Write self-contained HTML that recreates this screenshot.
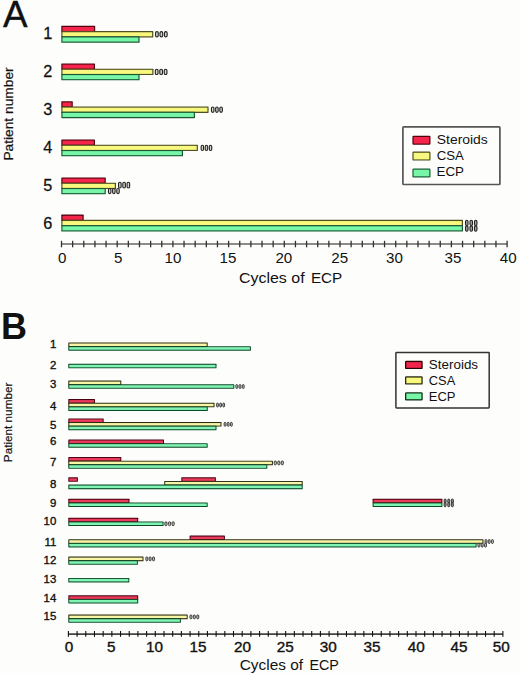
<!DOCTYPE html>
<html><head><meta charset="utf-8"><style>
html,body{margin:0;padding:0;background:#fdfdfb;}
body{width:520px;height:673px;overflow:hidden;}
svg{display:block;font-family:"Liberation Sans", sans-serif;fill:#111;}
text{fill:#111;}
</style></head><body>
<svg width="520" height="673" viewBox="0 0 520 673">
<rect width="520" height="673" fill="#fdfdfb"/>
<text x="2.9" y="27.0" font-size="36.8" text-anchor="start" font-weight="normal" stroke="#111" stroke-width="0.35">A</text>
<text transform="translate(13.4,160.6) rotate(-90)" font-size="13.2" textLength="93.2" lengthAdjust="spacingAndGlyphs" stroke="#111" stroke-width="0.2">Patient number</text>
<rect x="61.30" y="25.80" width="33.90" height="6.45" rx="0.6" fill="#52000f"/>
<rect x="62.50" y="27.00" width="31.50" height="4.05" fill="#f4244a"/>
<rect x="61.30" y="31.05" width="92.00" height="6.45" rx="0.6" fill="#505020"/>
<rect x="62.50" y="32.25" width="89.60" height="4.05" fill="#f9f87e"/>
<rect x="61.30" y="36.30" width="78.30" height="6.45" rx="0.6" fill="#1c5a34"/>
<rect x="62.50" y="37.50" width="75.90" height="4.05" fill="#76f6a6"/>
<rect x="155.55" y="31.60" width="2.72" height="5.35" rx="1.36" fill="#d4d4c8" stroke="#222" stroke-width="1.1"/>
<rect x="159.99" y="31.60" width="2.72" height="5.35" rx="1.36" fill="#d4d4c8" stroke="#222" stroke-width="1.1"/>
<rect x="164.43" y="31.60" width="2.72" height="5.35" rx="1.36" fill="#d4d4c8" stroke="#222" stroke-width="1.1"/>
<text transform="translate(52.4,39.1) scale(1.03,1)" font-size="15.8" text-anchor="end" font-weight="normal" stroke="#111" stroke-width="0.25">1</text>
<rect x="61.30" y="63.40" width="33.70" height="6.45" rx="0.6" fill="#52000f"/>
<rect x="62.50" y="64.60" width="31.30" height="4.05" fill="#f4244a"/>
<rect x="61.30" y="68.65" width="92.20" height="6.45" rx="0.6" fill="#505020"/>
<rect x="62.50" y="69.85" width="89.80" height="4.05" fill="#f9f87e"/>
<rect x="61.30" y="73.90" width="78.30" height="6.45" rx="0.6" fill="#1c5a34"/>
<rect x="62.50" y="75.10" width="75.90" height="4.05" fill="#76f6a6"/>
<rect x="155.35" y="69.20" width="2.72" height="5.35" rx="1.36" fill="#d4d4c8" stroke="#222" stroke-width="1.1"/>
<rect x="159.79" y="69.20" width="2.72" height="5.35" rx="1.36" fill="#d4d4c8" stroke="#222" stroke-width="1.1"/>
<rect x="164.23" y="69.20" width="2.72" height="5.35" rx="1.36" fill="#d4d4c8" stroke="#222" stroke-width="1.1"/>
<text transform="translate(52.4,76.7) scale(1.03,1)" font-size="15.8" text-anchor="end" font-weight="normal" stroke="#111" stroke-width="0.25">2</text>
<rect x="61.30" y="101.20" width="11.50" height="6.45" rx="0.6" fill="#52000f"/>
<rect x="62.50" y="102.40" width="9.10" height="4.05" fill="#f4244a"/>
<rect x="61.30" y="106.45" width="147.30" height="6.45" rx="0.6" fill="#505020"/>
<rect x="62.50" y="107.65" width="144.90" height="4.05" fill="#f9f87e"/>
<rect x="61.30" y="111.70" width="133.70" height="6.45" rx="0.6" fill="#1c5a34"/>
<rect x="62.50" y="112.90" width="131.30" height="4.05" fill="#76f6a6"/>
<rect x="211.45" y="107.00" width="2.51" height="5.35" rx="1.25" fill="#d4d4c8" stroke="#222" stroke-width="1.1"/>
<rect x="215.65" y="107.00" width="2.51" height="5.35" rx="1.25" fill="#d4d4c8" stroke="#222" stroke-width="1.1"/>
<rect x="219.84" y="107.00" width="2.51" height="5.35" rx="1.25" fill="#d4d4c8" stroke="#222" stroke-width="1.1"/>
<text transform="translate(52.4,114.5) scale(1.03,1)" font-size="15.8" text-anchor="end" font-weight="normal" stroke="#111" stroke-width="0.25">3</text>
<rect x="61.30" y="139.40" width="33.70" height="6.45" rx="0.6" fill="#52000f"/>
<rect x="62.50" y="140.60" width="31.30" height="4.05" fill="#f4244a"/>
<rect x="61.30" y="144.65" width="136.60" height="6.45" rx="0.6" fill="#505020"/>
<rect x="62.50" y="145.85" width="134.20" height="4.05" fill="#f9f87e"/>
<rect x="61.30" y="149.90" width="121.70" height="6.45" rx="0.6" fill="#1c5a34"/>
<rect x="62.50" y="151.10" width="119.30" height="4.05" fill="#76f6a6"/>
<rect x="201.15" y="145.20" width="2.42" height="5.35" rx="1.21" fill="#d4d4c8" stroke="#222" stroke-width="1.1"/>
<rect x="205.24" y="145.20" width="2.42" height="5.35" rx="1.21" fill="#d4d4c8" stroke="#222" stroke-width="1.1"/>
<rect x="209.33" y="145.20" width="2.42" height="5.35" rx="1.21" fill="#d4d4c8" stroke="#222" stroke-width="1.1"/>
<text transform="translate(52.4,152.7) scale(1.03,1)" font-size="15.8" text-anchor="end" font-weight="normal" stroke="#111" stroke-width="0.25">4</text>
<rect x="61.30" y="177.40" width="44.50" height="6.45" rx="0.6" fill="#52000f"/>
<rect x="62.50" y="178.60" width="42.10" height="4.05" fill="#f4244a"/>
<rect x="61.30" y="182.65" width="54.70" height="6.45" rx="0.6" fill="#505020"/>
<rect x="62.50" y="183.85" width="52.30" height="4.05" fill="#f9f87e"/>
<rect x="61.30" y="187.90" width="44.50" height="6.45" rx="0.6" fill="#1c5a34"/>
<rect x="62.50" y="189.10" width="42.10" height="4.05" fill="#76f6a6"/>
<rect x="118.55" y="182.30" width="2.57" height="5.65" rx="1.28" fill="#d4d4c8" stroke="#222" stroke-width="1.1"/>
<rect x="122.82" y="182.30" width="2.57" height="5.65" rx="1.28" fill="#d4d4c8" stroke="#222" stroke-width="1.1"/>
<rect x="127.08" y="182.30" width="2.57" height="5.65" rx="1.28" fill="#d4d4c8" stroke="#222" stroke-width="1.1"/>
<rect x="108.45" y="188.45" width="2.48" height="5.15" rx="1.24" fill="#d4d4c8" stroke="#222" stroke-width="1.1"/>
<rect x="112.61" y="188.45" width="2.48" height="5.15" rx="1.24" fill="#d4d4c8" stroke="#222" stroke-width="1.1"/>
<rect x="116.77" y="188.45" width="2.48" height="5.15" rx="1.24" fill="#d4d4c8" stroke="#222" stroke-width="1.1"/>
<text transform="translate(52.4,190.7) scale(1.03,1)" font-size="15.8" text-anchor="end" font-weight="normal" stroke="#111" stroke-width="0.25">5</text>
<rect x="61.30" y="214.60" width="22.40" height="6.45" rx="0.6" fill="#52000f"/>
<rect x="62.50" y="215.80" width="20.00" height="4.05" fill="#f4244a"/>
<rect x="61.30" y="219.85" width="401.70" height="6.45" rx="0.6" fill="#505020"/>
<rect x="62.50" y="221.05" width="399.30" height="4.05" fill="#f9f87e"/>
<rect x="61.30" y="225.10" width="401.70" height="6.45" rx="0.6" fill="#1c5a34"/>
<rect x="62.50" y="226.30" width="399.30" height="4.05" fill="#76f6a6"/>
<rect x="465.55" y="220.20" width="2.47" height="5.35" rx="1.24" fill="#a4aaa2" stroke="#222" stroke-width="1.1"/>
<rect x="470.01" y="220.20" width="2.47" height="5.35" rx="1.24" fill="#a4aaa2" stroke="#222" stroke-width="1.1"/>
<rect x="474.48" y="220.20" width="2.47" height="5.35" rx="1.24" fill="#a4aaa2" stroke="#222" stroke-width="1.1"/>
<rect x="465.55" y="225.85" width="2.47" height="5.35" rx="1.24" fill="#a4aaa2" stroke="#222" stroke-width="1.1"/>
<rect x="470.01" y="225.85" width="2.47" height="5.35" rx="1.24" fill="#a4aaa2" stroke="#222" stroke-width="1.1"/>
<rect x="474.48" y="225.85" width="2.47" height="5.35" rx="1.24" fill="#a4aaa2" stroke="#222" stroke-width="1.1"/>
<text transform="translate(52.4,228.6) scale(1.03,1)" font-size="15.8" text-anchor="end" font-weight="normal" stroke="#111" stroke-width="0.25">6</text>
<line x1="61.5" y1="243.9" x2="507.10" y2="243.9" stroke="#666" stroke-width="1.5"/>
<line x1="61.50" y1="240.8" x2="61.50" y2="247.3" stroke="#333" stroke-width="1.3"/>
<line x1="72.64" y1="240.8" x2="72.64" y2="247.3" stroke="#333" stroke-width="1.3"/>
<line x1="83.78" y1="240.8" x2="83.78" y2="247.3" stroke="#333" stroke-width="1.3"/>
<line x1="94.92" y1="240.8" x2="94.92" y2="247.3" stroke="#333" stroke-width="1.3"/>
<line x1="106.06" y1="240.8" x2="106.06" y2="247.3" stroke="#333" stroke-width="1.3"/>
<line x1="117.20" y1="240.8" x2="117.20" y2="247.3" stroke="#333" stroke-width="1.3"/>
<line x1="128.34" y1="240.8" x2="128.34" y2="247.3" stroke="#333" stroke-width="1.3"/>
<line x1="139.48" y1="240.8" x2="139.48" y2="247.3" stroke="#333" stroke-width="1.3"/>
<line x1="150.62" y1="240.8" x2="150.62" y2="247.3" stroke="#333" stroke-width="1.3"/>
<line x1="161.76" y1="240.8" x2="161.76" y2="247.3" stroke="#333" stroke-width="1.3"/>
<line x1="172.90" y1="240.8" x2="172.90" y2="247.3" stroke="#333" stroke-width="1.3"/>
<line x1="184.04" y1="240.8" x2="184.04" y2="247.3" stroke="#333" stroke-width="1.3"/>
<line x1="195.18" y1="240.8" x2="195.18" y2="247.3" stroke="#333" stroke-width="1.3"/>
<line x1="206.32" y1="240.8" x2="206.32" y2="247.3" stroke="#333" stroke-width="1.3"/>
<line x1="217.46" y1="240.8" x2="217.46" y2="247.3" stroke="#333" stroke-width="1.3"/>
<line x1="228.60" y1="240.8" x2="228.60" y2="247.3" stroke="#333" stroke-width="1.3"/>
<line x1="239.74" y1="240.8" x2="239.74" y2="247.3" stroke="#333" stroke-width="1.3"/>
<line x1="250.88" y1="240.8" x2="250.88" y2="247.3" stroke="#333" stroke-width="1.3"/>
<line x1="262.02" y1="240.8" x2="262.02" y2="247.3" stroke="#333" stroke-width="1.3"/>
<line x1="273.16" y1="240.8" x2="273.16" y2="247.3" stroke="#333" stroke-width="1.3"/>
<line x1="284.30" y1="240.8" x2="284.30" y2="247.3" stroke="#333" stroke-width="1.3"/>
<line x1="295.44" y1="240.8" x2="295.44" y2="247.3" stroke="#333" stroke-width="1.3"/>
<line x1="306.58" y1="240.8" x2="306.58" y2="247.3" stroke="#333" stroke-width="1.3"/>
<line x1="317.72" y1="240.8" x2="317.72" y2="247.3" stroke="#333" stroke-width="1.3"/>
<line x1="328.86" y1="240.8" x2="328.86" y2="247.3" stroke="#333" stroke-width="1.3"/>
<line x1="340.00" y1="240.8" x2="340.00" y2="247.3" stroke="#333" stroke-width="1.3"/>
<line x1="351.14" y1="240.8" x2="351.14" y2="247.3" stroke="#333" stroke-width="1.3"/>
<line x1="362.28" y1="240.8" x2="362.28" y2="247.3" stroke="#333" stroke-width="1.3"/>
<line x1="373.42" y1="240.8" x2="373.42" y2="247.3" stroke="#333" stroke-width="1.3"/>
<line x1="384.56" y1="240.8" x2="384.56" y2="247.3" stroke="#333" stroke-width="1.3"/>
<line x1="395.70" y1="240.8" x2="395.70" y2="247.3" stroke="#333" stroke-width="1.3"/>
<line x1="406.84" y1="240.8" x2="406.84" y2="247.3" stroke="#333" stroke-width="1.3"/>
<line x1="417.98" y1="240.8" x2="417.98" y2="247.3" stroke="#333" stroke-width="1.3"/>
<line x1="429.12" y1="240.8" x2="429.12" y2="247.3" stroke="#333" stroke-width="1.3"/>
<line x1="440.26" y1="240.8" x2="440.26" y2="247.3" stroke="#333" stroke-width="1.3"/>
<line x1="451.40" y1="240.8" x2="451.40" y2="247.3" stroke="#333" stroke-width="1.3"/>
<line x1="462.54" y1="240.8" x2="462.54" y2="247.3" stroke="#333" stroke-width="1.3"/>
<line x1="473.68" y1="240.8" x2="473.68" y2="247.3" stroke="#333" stroke-width="1.3"/>
<line x1="484.82" y1="240.8" x2="484.82" y2="247.3" stroke="#333" stroke-width="1.3"/>
<line x1="495.96" y1="240.8" x2="495.96" y2="247.3" stroke="#333" stroke-width="1.3"/>
<line x1="507.10" y1="240.8" x2="507.10" y2="247.3" stroke="#333" stroke-width="1.3"/>
<text transform="translate(62.30,262.8) scale(1.06,1)" font-size="14.3" text-anchor="middle" font-weight="normal">0</text>
<text transform="translate(118.20,262.8) scale(1.06,1)" font-size="14.3" text-anchor="middle" font-weight="normal">5</text>
<text transform="translate(172.90,262.8) scale(1.06,1)" font-size="14.3" text-anchor="middle" font-weight="normal">10</text>
<text transform="translate(227.90,262.8) scale(1.06,1)" font-size="14.3" text-anchor="middle" font-weight="normal">15</text>
<text transform="translate(283.80,262.8) scale(1.06,1)" font-size="14.3" text-anchor="middle" font-weight="normal">20</text>
<text transform="translate(339.70,262.8) scale(1.06,1)" font-size="14.3" text-anchor="middle" font-weight="normal">25</text>
<text transform="translate(394.40,262.8) scale(1.06,1)" font-size="14.3" text-anchor="middle" font-weight="normal">30</text>
<text transform="translate(453.00,262.8) scale(1.06,1)" font-size="14.3" text-anchor="middle" font-weight="normal">35</text>
<text transform="translate(508.20,262.8) scale(1.06,1)" font-size="14.3" text-anchor="middle" font-weight="normal">40</text>
<text x="238.99" y="282.6" font-size="14.8" text-anchor="start" font-weight="normal" textLength="65.59" lengthAdjust="spacingAndGlyphs">Cycles of</text>
<text x="310.95" y="282.6" font-size="14.8" text-anchor="start" font-weight="normal" textLength="31.36" lengthAdjust="spacingAndGlyphs">ECP</text>
<rect x="402.9" y="126.9" width="97.0" height="57.6" rx="0.8" fill="none" stroke="#555" stroke-width="1.7"/>
<rect x="412.40" y="135.80" width="18.10" height="9.00" rx="1.2" fill="#52000f"/>
<rect x="413.60" y="137.00" width="15.70" height="6.60" fill="#f4244a"/>
<text x="436.77" y="143.9" font-size="12.4" text-anchor="start" font-weight="normal" textLength="51.03" lengthAdjust="spacingAndGlyphs">Steroids</text>
<rect x="412.40" y="151.60" width="18.10" height="9.00" rx="1.2" fill="#505020"/>
<rect x="413.60" y="152.80" width="15.70" height="6.60" fill="#f9f87e"/>
<text x="436.73" y="160.4" font-size="12.4" text-anchor="start" font-weight="normal" textLength="27.09" lengthAdjust="spacingAndGlyphs">CSA</text>
<rect x="412.40" y="168.50" width="18.10" height="9.00" rx="1.2" fill="#1c5a34"/>
<rect x="413.60" y="169.70" width="15.70" height="6.60" fill="#76f6a6"/>
<text x="436.61" y="176.2" font-size="12.4" text-anchor="start" font-weight="normal" textLength="27.4" lengthAdjust="spacingAndGlyphs">ECP</text>
<text x="1.0" y="338.8" font-size="36" text-anchor="start" font-weight="bold">B</text>
<text transform="translate(12.3,462.2) rotate(-90)" font-size="11.8" textLength="79.6" lengthAdjust="spacingAndGlyphs" stroke="#111" stroke-width="0.2">Patient number</text>
<rect x="68.30" y="342.50" width="139.40" height="4.55" rx="0.5" fill="#2c2c10"/>
<rect x="69.30" y="343.50" width="137.40" height="2.55" fill="#f8f6a6"/>
<rect x="68.30" y="346.15" width="182.60" height="4.55" rx="0.5" fill="#0c4a26"/>
<rect x="69.30" y="347.15" width="180.60" height="2.55" fill="#80f4b4"/>
<text transform="translate(56.3,347.5) scale(1.04,1)" font-size="11.0" text-anchor="end" font-weight="normal" stroke="#111" stroke-width="0.35">1</text>
<rect x="68.30" y="363.80" width="148.20" height="4.55" rx="0.5" fill="#0c4a26"/>
<rect x="69.30" y="364.80" width="146.20" height="2.55" fill="#80f4b4"/>
<text transform="translate(56.3,369.3) scale(1.04,1)" font-size="11.0" text-anchor="end" font-weight="normal" stroke="#111" stroke-width="0.35">2</text>
<rect x="68.30" y="380.60" width="53.00" height="4.55" rx="0.5" fill="#2c2c10"/>
<rect x="69.30" y="381.60" width="51.00" height="2.55" fill="#f8f6a6"/>
<rect x="68.30" y="384.25" width="166.00" height="4.55" rx="0.5" fill="#0c4a26"/>
<rect x="69.30" y="385.25" width="164.00" height="2.55" fill="#80f4b4"/>
<rect x="235.83" y="384.57" width="1.87" height="3.90" rx="0.94" fill="#c4c4bc" stroke="#222" stroke-width="0.85"/>
<rect x="239.06" y="384.57" width="1.87" height="3.90" rx="0.94" fill="#c4c4bc" stroke="#222" stroke-width="0.85"/>
<rect x="242.30" y="384.57" width="1.87" height="3.90" rx="0.94" fill="#c4c4bc" stroke="#222" stroke-width="0.85"/>
<text transform="translate(56.3,388.0) scale(1.04,1)" font-size="11.0" text-anchor="end" font-weight="normal" stroke="#111" stroke-width="0.35">3</text>
<rect x="68.30" y="399.10" width="26.70" height="4.55" rx="0.5" fill="#4a0010"/>
<rect x="69.30" y="400.10" width="24.70" height="2.55" fill="#ec3a5c"/>
<rect x="68.30" y="402.75" width="146.20" height="4.55" rx="0.5" fill="#2c2c10"/>
<rect x="69.30" y="403.75" width="144.20" height="2.55" fill="#f8f6a6"/>
<rect x="68.30" y="406.40" width="139.50" height="4.55" rx="0.5" fill="#0c4a26"/>
<rect x="69.30" y="407.40" width="137.50" height="2.55" fill="#80f4b4"/>
<rect x="216.62" y="403.07" width="1.75" height="3.90" rx="0.88" fill="#c4c4bc" stroke="#222" stroke-width="0.85"/>
<rect x="219.72" y="403.07" width="1.75" height="3.90" rx="0.88" fill="#c4c4bc" stroke="#222" stroke-width="0.85"/>
<rect x="222.82" y="403.07" width="1.75" height="3.90" rx="0.88" fill="#c4c4bc" stroke="#222" stroke-width="0.85"/>
<text transform="translate(56.3,410.4) scale(1.04,1)" font-size="11.0" text-anchor="end" font-weight="normal" stroke="#111" stroke-width="0.35">4</text>
<rect x="68.30" y="418.40" width="35.40" height="4.55" rx="0.5" fill="#4a0010"/>
<rect x="69.30" y="419.40" width="33.40" height="2.55" fill="#ec3a5c"/>
<rect x="68.30" y="422.05" width="153.20" height="4.55" rx="0.5" fill="#2c2c10"/>
<rect x="69.30" y="423.05" width="151.20" height="2.55" fill="#f8f6a6"/>
<rect x="68.30" y="425.70" width="148.20" height="4.55" rx="0.5" fill="#0c4a26"/>
<rect x="69.30" y="426.70" width="146.20" height="2.55" fill="#80f4b4"/>
<rect x="224.12" y="422.37" width="1.81" height="3.90" rx="0.91" fill="#c4c4bc" stroke="#222" stroke-width="0.85"/>
<rect x="227.29" y="422.37" width="1.81" height="3.90" rx="0.91" fill="#c4c4bc" stroke="#222" stroke-width="0.85"/>
<rect x="230.46" y="422.37" width="1.81" height="3.90" rx="0.91" fill="#c4c4bc" stroke="#222" stroke-width="0.85"/>
<text transform="translate(56.3,429.3) scale(1.04,1)" font-size="11.0" text-anchor="end" font-weight="normal" stroke="#111" stroke-width="0.35">5</text>
<rect x="68.30" y="439.50" width="95.70" height="4.55" rx="0.5" fill="#4a0010"/>
<rect x="69.30" y="440.50" width="93.70" height="2.55" fill="#ec3a5c"/>
<rect x="68.30" y="443.15" width="139.40" height="4.55" rx="0.5" fill="#0c4a26"/>
<rect x="69.30" y="444.15" width="137.40" height="2.55" fill="#80f4b4"/>
<text transform="translate(56.3,445.2) scale(1.04,1)" font-size="11.0" text-anchor="end" font-weight="normal" stroke="#111" stroke-width="0.35">6</text>
<rect x="68.30" y="457.00" width="53.00" height="4.55" rx="0.5" fill="#4a0010"/>
<rect x="69.30" y="458.00" width="51.00" height="2.55" fill="#ec3a5c"/>
<rect x="68.30" y="460.65" width="204.60" height="4.55" rx="0.5" fill="#2c2c10"/>
<rect x="69.30" y="461.65" width="202.60" height="2.55" fill="#f8f6a6"/>
<rect x="68.30" y="464.30" width="199.00" height="4.55" rx="0.5" fill="#0c4a26"/>
<rect x="69.30" y="465.30" width="197.00" height="2.55" fill="#80f4b4"/>
<rect x="274.23" y="460.97" width="2.11" height="3.90" rx="1.05" fill="#c4c4bc" stroke="#222" stroke-width="0.85"/>
<rect x="277.75" y="460.97" width="2.11" height="3.90" rx="1.05" fill="#c4c4bc" stroke="#222" stroke-width="0.85"/>
<rect x="281.27" y="460.97" width="2.11" height="3.90" rx="1.05" fill="#c4c4bc" stroke="#222" stroke-width="0.85"/>
<text transform="translate(56.3,466.3) scale(1.04,1)" font-size="11.0" text-anchor="end" font-weight="normal" stroke="#111" stroke-width="0.35">7</text>
<rect x="68.30" y="477.30" width="9.60" height="4.55" rx="0.5" fill="#4a0010"/>
<rect x="69.30" y="478.30" width="7.60" height="2.55" fill="#ec3a5c"/>
<rect x="181.30" y="477.30" width="34.60" height="4.55" rx="0.5" fill="#4a0010"/>
<rect x="182.30" y="478.30" width="32.60" height="2.55" fill="#ec3a5c"/>
<rect x="164.20" y="480.95" width="138.50" height="4.55" rx="0.5" fill="#2c2c10"/>
<rect x="165.20" y="481.95" width="136.50" height="2.55" fill="#f8f6a6"/>
<rect x="68.30" y="484.60" width="234.40" height="4.55" rx="0.5" fill="#0c4a26"/>
<rect x="69.30" y="485.60" width="232.40" height="2.55" fill="#80f4b4"/>
<text transform="translate(56.3,488.0) scale(1.04,1)" font-size="11.0" text-anchor="end" font-weight="normal" stroke="#111" stroke-width="0.35">8</text>
<rect x="68.30" y="498.80" width="61.20" height="4.55" rx="0.5" fill="#4a0010"/>
<rect x="69.30" y="499.80" width="59.20" height="2.55" fill="#ec3a5c"/>
<rect x="68.30" y="502.45" width="139.40" height="4.55" rx="0.5" fill="#0c4a26"/>
<rect x="69.30" y="503.45" width="137.40" height="2.55" fill="#80f4b4"/>
<rect x="372.60" y="498.80" width="69.80" height="4.55" rx="0.5" fill="#4a0010"/>
<rect x="373.60" y="499.80" width="67.80" height="2.55" fill="#ec3a5c"/>
<rect x="372.60" y="502.45" width="69.80" height="4.55" rx="0.5" fill="#0c4a26"/>
<rect x="373.60" y="503.45" width="67.80" height="2.55" fill="#80f4b4"/>
<rect x="444.12" y="499.03" width="1.98" height="4.10" rx="0.99" fill="#8c8c88" stroke="#222" stroke-width="0.85"/>
<rect x="447.76" y="499.03" width="1.98" height="4.10" rx="0.99" fill="#8c8c88" stroke="#222" stroke-width="0.85"/>
<rect x="451.39" y="499.03" width="1.98" height="4.10" rx="0.99" fill="#8c8c88" stroke="#222" stroke-width="0.85"/>
<rect x="444.12" y="502.68" width="1.98" height="4.10" rx="0.99" fill="#8c8c88" stroke="#222" stroke-width="0.85"/>
<rect x="447.76" y="502.68" width="1.98" height="4.10" rx="0.99" fill="#8c8c88" stroke="#222" stroke-width="0.85"/>
<rect x="451.39" y="502.68" width="1.98" height="4.10" rx="0.99" fill="#8c8c88" stroke="#222" stroke-width="0.85"/>
<text transform="translate(56.3,506.6) scale(1.04,1)" font-size="11.0" text-anchor="end" font-weight="normal" stroke="#111" stroke-width="0.35">9</text>
<rect x="68.30" y="517.80" width="69.90" height="4.55" rx="0.5" fill="#4a0010"/>
<rect x="69.30" y="518.80" width="67.90" height="2.55" fill="#ec3a5c"/>
<rect x="68.30" y="521.45" width="95.30" height="4.55" rx="0.5" fill="#0c4a26"/>
<rect x="69.30" y="522.45" width="93.30" height="2.55" fill="#80f4b4"/>
<rect x="164.83" y="521.77" width="2.17" height="3.90" rx="1.08" fill="#c4c4bc" stroke="#222" stroke-width="0.85"/>
<rect x="168.42" y="521.77" width="2.17" height="3.90" rx="1.08" fill="#c4c4bc" stroke="#222" stroke-width="0.85"/>
<rect x="172.01" y="521.77" width="2.17" height="3.90" rx="1.08" fill="#c4c4bc" stroke="#222" stroke-width="0.85"/>
<text transform="translate(56.3,524.6) scale(1.04,1)" font-size="11.0" text-anchor="end" font-weight="normal" stroke="#111" stroke-width="0.35">10</text>
<rect x="189.60" y="535.60" width="35.30" height="4.55" rx="0.5" fill="#4a0010"/>
<rect x="190.60" y="536.60" width="33.30" height="2.55" fill="#ec3a5c"/>
<rect x="68.30" y="539.25" width="415.20" height="4.55" rx="0.5" fill="#2c2c10"/>
<rect x="69.30" y="540.25" width="413.20" height="2.55" fill="#f8f6a6"/>
<rect x="68.30" y="542.90" width="408.30" height="4.55" rx="0.5" fill="#0c4a26"/>
<rect x="69.30" y="543.90" width="406.30" height="2.55" fill="#80f4b4"/>
<rect x="485.03" y="539.57" width="1.87" height="3.90" rx="0.94" fill="#c4c4bc" stroke="#222" stroke-width="0.85"/>
<rect x="488.26" y="539.57" width="1.87" height="3.90" rx="0.94" fill="#c4c4bc" stroke="#222" stroke-width="0.85"/>
<rect x="491.50" y="539.57" width="1.87" height="3.90" rx="0.94" fill="#c4c4bc" stroke="#222" stroke-width="0.85"/>
<rect x="477.93" y="543.22" width="1.93" height="3.90" rx="0.97" fill="#c4c4bc" stroke="#222" stroke-width="0.85"/>
<rect x="481.23" y="543.22" width="1.93" height="3.90" rx="0.97" fill="#c4c4bc" stroke="#222" stroke-width="0.85"/>
<rect x="484.54" y="543.22" width="1.93" height="3.90" rx="0.97" fill="#c4c4bc" stroke="#222" stroke-width="0.85"/>
<text transform="translate(56.3,545.5) scale(1.04,1)" font-size="11.0" text-anchor="end" font-weight="normal" stroke="#111" stroke-width="0.35">11</text>
<rect x="68.30" y="556.60" width="75.20" height="4.55" rx="0.5" fill="#2c2c10"/>
<rect x="69.30" y="557.60" width="73.20" height="2.55" fill="#f8f6a6"/>
<rect x="68.30" y="560.25" width="69.60" height="4.55" rx="0.5" fill="#0c4a26"/>
<rect x="69.30" y="561.25" width="67.60" height="2.55" fill="#80f4b4"/>
<rect x="145.83" y="556.92" width="1.96" height="3.90" rx="0.98" fill="#c4c4bc" stroke="#222" stroke-width="0.85"/>
<rect x="149.17" y="556.92" width="1.96" height="3.90" rx="0.98" fill="#c4c4bc" stroke="#222" stroke-width="0.85"/>
<rect x="152.52" y="556.92" width="1.96" height="3.90" rx="0.98" fill="#c4c4bc" stroke="#222" stroke-width="0.85"/>
<text transform="translate(56.3,564.4) scale(1.04,1)" font-size="11.0" text-anchor="end" font-weight="normal" stroke="#111" stroke-width="0.35">12</text>
<rect x="68.30" y="577.90" width="61.00" height="4.55" rx="0.5" fill="#0c4a26"/>
<rect x="69.30" y="578.90" width="59.00" height="2.55" fill="#80f4b4"/>
<text transform="translate(56.3,583.4) scale(1.04,1)" font-size="11.0" text-anchor="end" font-weight="normal" stroke="#111" stroke-width="0.35">13</text>
<rect x="68.30" y="595.30" width="69.90" height="4.55" rx="0.5" fill="#4a0010"/>
<rect x="69.30" y="596.30" width="67.90" height="2.55" fill="#ec3a5c"/>
<rect x="68.30" y="598.95" width="69.90" height="4.55" rx="0.5" fill="#0c4a26"/>
<rect x="69.30" y="599.95" width="67.90" height="2.55" fill="#80f4b4"/>
<text transform="translate(56.3,601.6) scale(1.04,1)" font-size="11.0" text-anchor="end" font-weight="normal" stroke="#111" stroke-width="0.35">14</text>
<rect x="68.30" y="614.60" width="119.40" height="4.55" rx="0.5" fill="#2c2c10"/>
<rect x="69.30" y="615.60" width="117.40" height="2.55" fill="#f8f6a6"/>
<rect x="68.30" y="618.25" width="112.60" height="4.55" rx="0.5" fill="#0c4a26"/>
<rect x="69.30" y="619.25" width="110.60" height="2.55" fill="#80f4b4"/>
<rect x="189.93" y="614.92" width="2.02" height="3.90" rx="1.01" fill="#c4c4bc" stroke="#222" stroke-width="0.85"/>
<rect x="193.34" y="614.92" width="2.02" height="3.90" rx="1.01" fill="#c4c4bc" stroke="#222" stroke-width="0.85"/>
<rect x="196.76" y="614.92" width="2.02" height="3.90" rx="1.01" fill="#c4c4bc" stroke="#222" stroke-width="0.85"/>
<text transform="translate(56.3,620.0) scale(1.04,1)" font-size="11.0" text-anchor="end" font-weight="normal" stroke="#111" stroke-width="0.35">15</text>
<line x1="68.4" y1="634.1" x2="502.90" y2="634.1" stroke="#444" stroke-width="1.6"/>
<line x1="68.40" y1="631.0" x2="68.40" y2="636.8" stroke="#111" stroke-width="1.1"/>
<line x1="77.09" y1="631.0" x2="77.09" y2="636.8" stroke="#111" stroke-width="1.1"/>
<line x1="85.78" y1="631.0" x2="85.78" y2="636.8" stroke="#111" stroke-width="1.1"/>
<line x1="94.47" y1="631.0" x2="94.47" y2="636.8" stroke="#111" stroke-width="1.1"/>
<line x1="103.16" y1="631.0" x2="103.16" y2="636.8" stroke="#111" stroke-width="1.1"/>
<line x1="111.85" y1="631.0" x2="111.85" y2="636.8" stroke="#111" stroke-width="1.1"/>
<line x1="120.54" y1="631.0" x2="120.54" y2="636.8" stroke="#111" stroke-width="1.1"/>
<line x1="129.23" y1="631.0" x2="129.23" y2="636.8" stroke="#111" stroke-width="1.1"/>
<line x1="137.92" y1="631.0" x2="137.92" y2="636.8" stroke="#111" stroke-width="1.1"/>
<line x1="146.61" y1="631.0" x2="146.61" y2="636.8" stroke="#111" stroke-width="1.1"/>
<line x1="155.30" y1="631.0" x2="155.30" y2="636.8" stroke="#111" stroke-width="1.1"/>
<line x1="163.99" y1="631.0" x2="163.99" y2="636.8" stroke="#111" stroke-width="1.1"/>
<line x1="172.68" y1="631.0" x2="172.68" y2="636.8" stroke="#111" stroke-width="1.1"/>
<line x1="181.37" y1="631.0" x2="181.37" y2="636.8" stroke="#111" stroke-width="1.1"/>
<line x1="190.06" y1="631.0" x2="190.06" y2="636.8" stroke="#111" stroke-width="1.1"/>
<line x1="198.75" y1="631.0" x2="198.75" y2="636.8" stroke="#111" stroke-width="1.1"/>
<line x1="207.44" y1="631.0" x2="207.44" y2="636.8" stroke="#111" stroke-width="1.1"/>
<line x1="216.13" y1="631.0" x2="216.13" y2="636.8" stroke="#111" stroke-width="1.1"/>
<line x1="224.82" y1="631.0" x2="224.82" y2="636.8" stroke="#111" stroke-width="1.1"/>
<line x1="233.51" y1="631.0" x2="233.51" y2="636.8" stroke="#111" stroke-width="1.1"/>
<line x1="242.20" y1="631.0" x2="242.20" y2="636.8" stroke="#111" stroke-width="1.1"/>
<line x1="250.89" y1="631.0" x2="250.89" y2="636.8" stroke="#111" stroke-width="1.1"/>
<line x1="259.58" y1="631.0" x2="259.58" y2="636.8" stroke="#111" stroke-width="1.1"/>
<line x1="268.27" y1="631.0" x2="268.27" y2="636.8" stroke="#111" stroke-width="1.1"/>
<line x1="276.96" y1="631.0" x2="276.96" y2="636.8" stroke="#111" stroke-width="1.1"/>
<line x1="285.65" y1="631.0" x2="285.65" y2="636.8" stroke="#111" stroke-width="1.1"/>
<line x1="294.34" y1="631.0" x2="294.34" y2="636.8" stroke="#111" stroke-width="1.1"/>
<line x1="303.03" y1="631.0" x2="303.03" y2="636.8" stroke="#111" stroke-width="1.1"/>
<line x1="311.72" y1="631.0" x2="311.72" y2="636.8" stroke="#111" stroke-width="1.1"/>
<line x1="320.41" y1="631.0" x2="320.41" y2="636.8" stroke="#111" stroke-width="1.1"/>
<line x1="329.10" y1="631.0" x2="329.10" y2="636.8" stroke="#111" stroke-width="1.1"/>
<line x1="337.79" y1="631.0" x2="337.79" y2="636.8" stroke="#111" stroke-width="1.1"/>
<line x1="346.48" y1="631.0" x2="346.48" y2="636.8" stroke="#111" stroke-width="1.1"/>
<line x1="355.17" y1="631.0" x2="355.17" y2="636.8" stroke="#111" stroke-width="1.1"/>
<line x1="363.86" y1="631.0" x2="363.86" y2="636.8" stroke="#111" stroke-width="1.1"/>
<line x1="372.55" y1="631.0" x2="372.55" y2="636.8" stroke="#111" stroke-width="1.1"/>
<line x1="381.24" y1="631.0" x2="381.24" y2="636.8" stroke="#111" stroke-width="1.1"/>
<line x1="389.93" y1="631.0" x2="389.93" y2="636.8" stroke="#111" stroke-width="1.1"/>
<line x1="398.62" y1="631.0" x2="398.62" y2="636.8" stroke="#111" stroke-width="1.1"/>
<line x1="407.31" y1="631.0" x2="407.31" y2="636.8" stroke="#111" stroke-width="1.1"/>
<line x1="416.00" y1="631.0" x2="416.00" y2="636.8" stroke="#111" stroke-width="1.1"/>
<line x1="424.69" y1="631.0" x2="424.69" y2="636.8" stroke="#111" stroke-width="1.1"/>
<line x1="433.38" y1="631.0" x2="433.38" y2="636.8" stroke="#111" stroke-width="1.1"/>
<line x1="442.07" y1="631.0" x2="442.07" y2="636.8" stroke="#111" stroke-width="1.1"/>
<line x1="450.76" y1="631.0" x2="450.76" y2="636.8" stroke="#111" stroke-width="1.1"/>
<line x1="459.45" y1="631.0" x2="459.45" y2="636.8" stroke="#111" stroke-width="1.1"/>
<line x1="468.14" y1="631.0" x2="468.14" y2="636.8" stroke="#111" stroke-width="1.1"/>
<line x1="476.83" y1="631.0" x2="476.83" y2="636.8" stroke="#111" stroke-width="1.1"/>
<line x1="485.52" y1="631.0" x2="485.52" y2="636.8" stroke="#111" stroke-width="1.1"/>
<line x1="494.21" y1="631.0" x2="494.21" y2="636.8" stroke="#111" stroke-width="1.1"/>
<line x1="502.90" y1="631.0" x2="502.90" y2="636.8" stroke="#111" stroke-width="1.1"/>
<text transform="translate(68.90,651.9) scale(1.1,1)" font-size="13.9" text-anchor="middle" font-weight="normal" stroke="#111" stroke-width="0.35">0</text>
<text transform="translate(111.30,651.9) scale(1.1,1)" font-size="13.9" text-anchor="middle" font-weight="normal" stroke="#111" stroke-width="0.35">5</text>
<text transform="translate(154.50,651.9) scale(1.1,1)" font-size="13.9" text-anchor="middle" font-weight="normal" stroke="#111" stroke-width="0.35">10</text>
<text transform="translate(198.10,651.9) scale(1.1,1)" font-size="13.9" text-anchor="middle" font-weight="normal" stroke="#111" stroke-width="0.35">15</text>
<text transform="translate(242.50,651.9) scale(1.1,1)" font-size="13.9" text-anchor="middle" font-weight="normal" stroke="#111" stroke-width="0.35">20</text>
<text transform="translate(285.20,651.9) scale(1.1,1)" font-size="13.9" text-anchor="middle" font-weight="normal" stroke="#111" stroke-width="0.35">25</text>
<text transform="translate(328.30,651.9) scale(1.1,1)" font-size="13.9" text-anchor="middle" font-weight="normal" stroke="#111" stroke-width="0.35">30</text>
<text transform="translate(371.90,651.9) scale(1.1,1)" font-size="13.9" text-anchor="middle" font-weight="normal" stroke="#111" stroke-width="0.35">35</text>
<text transform="translate(416.30,651.9) scale(1.1,1)" font-size="13.9" text-anchor="middle" font-weight="normal" stroke="#111" stroke-width="0.35">40</text>
<text transform="translate(458.90,651.9) scale(1.1,1)" font-size="13.9" text-anchor="middle" font-weight="normal" stroke="#111" stroke-width="0.35">45</text>
<text transform="translate(501.30,651.9) scale(1.1,1)" font-size="13.9" text-anchor="middle" font-weight="normal" stroke="#111" stroke-width="0.35">50</text>
<text x="239.72" y="669.6" font-size="14.7" text-anchor="start" font-weight="normal" textLength="63.36" lengthAdjust="spacingAndGlyphs">Cycles of</text>
<text x="309.43" y="669.6" font-size="14.7" text-anchor="start" font-weight="normal" textLength="29.43" lengthAdjust="spacingAndGlyphs">ECP</text>
<rect x="395.9" y="352.5" width="93.3" height="55.4" rx="0.6" fill="none" stroke="#333" stroke-width="1.5"/>
<rect x="405.00" y="360.80" width="17.70" height="8.30" rx="1.2" fill="#2a0508"/>
<rect x="406.30" y="362.10" width="15.10" height="5.70" fill="#f4244a"/>
<text x="428.89" y="368.7" font-size="12.8" text-anchor="start" font-weight="normal" textLength="49.19" lengthAdjust="spacingAndGlyphs">Steroids</text>
<rect x="405.00" y="376.30" width="17.70" height="8.30" rx="1.2" fill="#2a2a10"/>
<rect x="406.30" y="377.60" width="15.10" height="5.70" fill="#f9f87e"/>
<text x="428.85" y="384.6" font-size="12.8" text-anchor="start" font-weight="normal" textLength="26.38" lengthAdjust="spacingAndGlyphs">CSA</text>
<rect x="405.00" y="392.20" width="17.70" height="8.30" rx="1.2" fill="#103018"/>
<rect x="406.30" y="393.50" width="15.10" height="5.70" fill="#76f6a6"/>
<text x="428.73" y="400.6" font-size="12.8" text-anchor="start" font-weight="normal" textLength="26.75" lengthAdjust="spacingAndGlyphs">ECP</text>
</svg>
</body></html>
